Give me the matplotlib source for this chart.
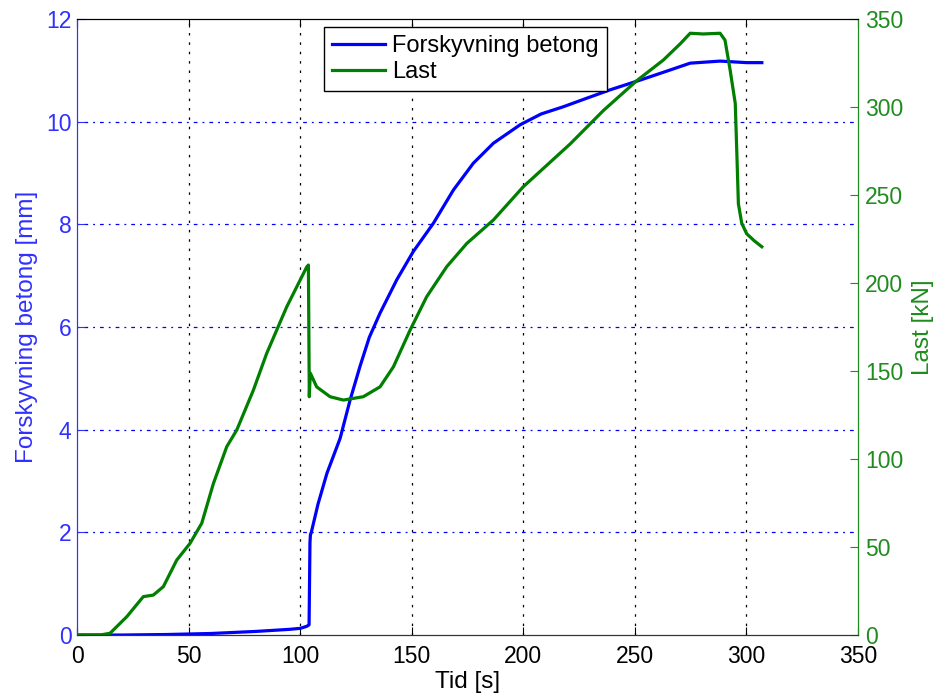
import matplotlib
matplotlib.use("Agg")
import matplotlib.pyplot as plt

plt.rcParams['font.family'] = ['Liberation Sans', 'DejaVu Sans']

# Displacement of concrete (mm) over time (s)
t_disp = [0, 20, 40, 60, 80, 95, 100, 103, 104.0, 104.2, 104.4, 104.6, 105, 108,
          112, 117.9, 122.4, 126.8, 131, 135.8, 143.3, 150.7, 159.7, 168.7, 177.6,
          186.6, 198.6, 208, 217.9, 228, 238.9, 252.4, 264, 274.8, 288.2, 300.1, 306.9]
disp = [0, 0, 0.01, 0.03, 0.07, 0.11, 0.13, 0.17, 0.2, 1.0, 1.8, 1.95, 2.0, 2.55,
        3.15, 3.83, 4.58, 5.23, 5.8, 6.27, 6.92, 7.47, 8.02, 8.67, 9.19,
        9.58, 9.94, 10.15, 10.29, 10.45, 10.62, 10.81, 10.98, 11.14, 11.18, 11.15, 11.15]

# Load (kN) over time (s)
t_load = [0, 10.3, 14.8, 22.3, 29.7, 34.2, 38.7, 44.7, 50.6, 55.9, 61.1, 67.1,
          71.6, 79, 85, 94, 102.9, 103.7, 104.1, 104.3, 104.6, 107.4, 113.4, 119.4,
          128.3, 135.8, 141.8, 149.3, 156.7, 165.7, 174.7, 186.6, 200, 221, 235.9,
          250.9, 262.8, 270.4, 274.8, 280.6, 288.2, 290.4, 292.7, 295, 295.7,
          296.4, 297.9, 300.1, 303.5, 306.9]
load = [0, 0, 1, 10.4, 21.8, 22.7, 27.5, 42.6, 52, 63.5, 86, 107,
        116.5, 139, 160, 186.5, 209, 210.2, 135.4, 142, 148.7, 141, 135.4, 133.5,
        135.4, 141, 152.4, 173.3, 192.2, 209.3, 222.5, 235.8, 254.7, 279, 298,
        315, 326.7, 336, 341.9, 341.5, 341.9, 338, 321, 302, 274,
        245, 234, 228, 224, 220.6]

blue = '#0000ff'
tick_blue = '#3030ff'
green = '#007f00'
tick_green = '#1f8c1f'
fs_tick = 16.5
fs_label = 17.5
fs_leg = 17

fig = plt.figure(figsize=(9.38, 6.96), dpi=100)
ax = fig.add_axes([0.0821, 0.0876, 0.8326, 0.8851])
ax2 = ax.twinx()

l1, = ax.plot(t_disp, disp, color=blue, lw=2.3, solid_joinstyle='round')
l2, = ax2.plot(t_load, load, color=green, lw=2.3, solid_joinstyle='round')

ax.set_xlim(0, 350)
ax.set_ylim(0, 12)
ax2.set_ylim(0, 350)
ax.set_xticks(range(0, 351, 50))
ax.set_yticks(range(0, 13, 2))
ax2.set_yticks(range(0, 351, 50))

# vertical grid (black dotted) and horizontal grid (blue dash-dot) on the left axis
for x in range(50, 350, 50):
    ax.axvline(x, color='black', lw=0.9, linestyle=(0, (2, 5.5)), zorder=0.5)
for y in range(2, 12, 2):
    ax.axhline(y, color=blue, lw=0.9, linestyle=(0, (1.5, 4, 3, 4)), zorder=0.5)

ax.tick_params(axis='x', direction='in', top=True, length=6, labelsize=fs_tick,
               colors='black', pad=7)
ax.tick_params(axis='y', direction='in', length=6, labelsize=fs_tick,
               colors=tick_blue, labelcolor=tick_blue, pad=4)
ax2.tick_params(axis='y', direction='in', length=6, labelsize=fs_tick,
                colors=tick_green, labelcolor=tick_green, pad=5)

for a in (ax, ax2):
    a.spines['top'].set_color('black')
    a.spines['bottom'].set_color('#333333')
    a.spines['left'].set_color(tick_blue)
    a.spines['right'].set_color(tick_green)

ax.set_xlabel('Tid [s]', fontsize=fs_label, labelpad=2)
ax.set_ylabel('Forskyvning betong [mm]', fontsize=fs_label, color=tick_blue, labelpad=6)
ax2.set_ylabel('Last [kN]', fontsize=fs_label, color=tick_green, labelpad=6)

leg = ax2.legend([l1, l2], ['Forskyvning betong', 'Last'], loc='upper left',
                 bbox_to_anchor=(0.316, 0.987), fontsize=fs_leg, fancybox=False,
                 edgecolor='black', framealpha=1, handlelength=2.25,
                 borderpad=0.35, labelspacing=0.15, handletextpad=0.3,
                 borderaxespad=0)
leg.get_frame().set_linewidth(1.0)

fig.savefig('out.png', dpi=100)
